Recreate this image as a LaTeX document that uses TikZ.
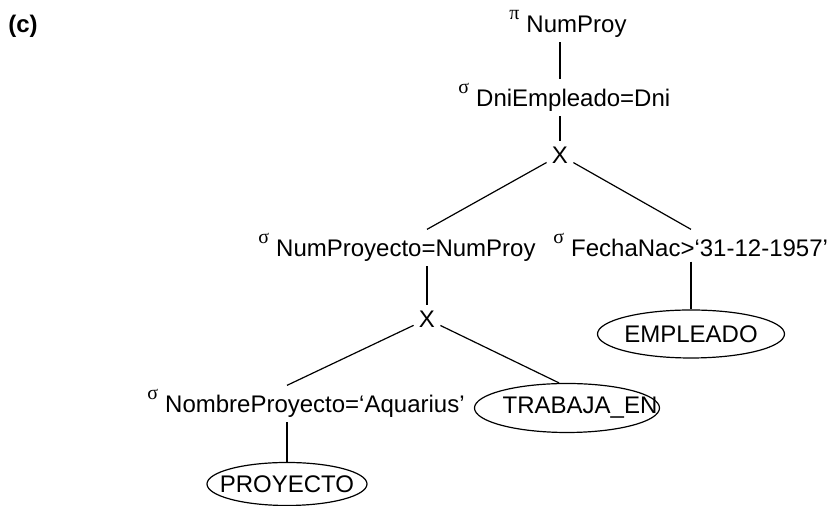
\documentclass[tikz,border=0pt]{standalone}
\usepackage{fontspec}
\setmainfont{Liberation Sans}
\newfontfamily\symfont{Liberation Serif}
\usetikzlibrary{shapes.geometric}
\newcommand{\opsym}[1]{\raisebox{6.5pt}{\fontsize{10}{12}\symfont #1}\hspace{3.5pt}}

\begin{document}
\begin{tikzpicture}[
    x=0.5pt, y=-0.5pt,
    font=\fontsize{12}{14}\selectfont,
    edge/.style={line width=0.6pt},
    op/.style={anchor=base west, inner xsep=0pt, inner ysep=2pt},
    cross/.style={inner sep=2.5pt},
    rel/.style={draw, ellipse, inner sep=0pt, line width=0.6pt}
]
\useasboundingbox (0,0) rectangle (827,506);

% Title
\node[anchor=base west, inner sep=0pt, font=\fontsize{12}{14}\selectfont\bfseries] (title) at (8,33) {(c)};

% Operators
\node[op] (proj) at (509,33) {\opsym{π}NumProy};
\node[op] (sel1) at (458,107) {\opsym{σ}DniEmpleado=Dni};
\node[cross] (x1) at (560,155) {X};
\node[op] (sel2) at (258,257) {\opsym{σ}NumProyecto=NumProy};
\node[op] (sel3) at (553,257) {\opsym{σ}FechaNac>‘31-12-1957’};
\node[cross] (x2) at (427,319) {X};
\node[op] (sel4) at (147,413) {\opsym{σ}NombreProyecto=‘Aquarius’};

% Relations
\node[rel, minimum width=93.5pt, minimum height=24pt] (emp) at (691,334) {\makebox[0pt]{EMPLEADO}};
\node[rel, minimum width=92.5pt, minimum height=24.5pt] (trab) at (567,408) {\makebox[0pt]{\hspace{13pt}TRABAJA\_EN}};
\node[rel, minimum width=80pt, minimum height=21.5pt] (proy) at (287,484) {\makebox[0pt]{PROYECTO}};

% Edges
\draw[edge] (x1 |- proj.south) -- (x1 |- sel1.north);
\draw[edge] (x1 |- sel1.south) -- (x1);
\draw[edge] (x1) -- (x2 |- sel2.north);
\draw[edge] (x1) -- (emp |- sel3.north);
\draw[edge] (x2 |- sel2.south) -- (x2);
\draw[edge] (emp |- sel3.south) -- (emp);
\draw[edge] (x2) -- (proy |- sel4.north);
\draw[edge] (x2) -- ([xshift=-4pt]trab.north);
\draw[edge] (proy |- sel4.south) -- (proy);

\end{tikzpicture}
\end{document}
